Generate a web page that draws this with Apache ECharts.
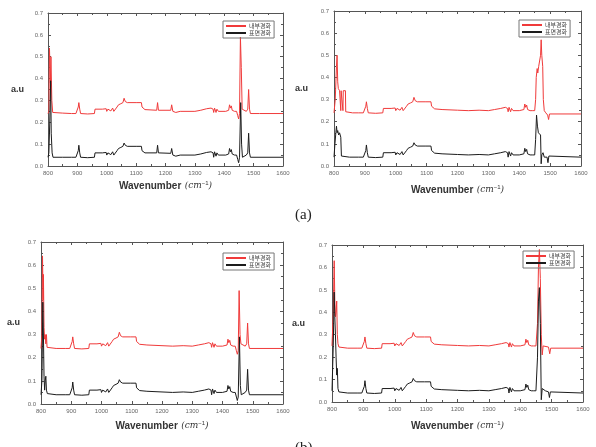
<!DOCTYPE html>
<html>
<head>
<meta charset="utf-8">
<script src="https://cdn.jsdelivr.net/npm/echarts@6/dist/echarts.min.js"></script>
<style>
html, body { margin: 0; padding: 0; background: #fff; }
#chart { width: 596px; height: 447px; }
</style>
</head>
<body>
<div id="chart"></div>
<script>
// legend names (internal / surface hardening)
const seriesNames = ['내부경화', '표면경화'];
const panelLabels = ['(a)', '(b)'];

// [wavenumber, a.u]
const tlRedHead = [[800,0.24],[803,0.25],[805,0.54],[808,0.38],[810,0.50],[813,0.30],[816,0.245],[850,0.242]];
const tlBlackHead = [[800,0.04],[803,0.06],[806,0.2],[809,0.39],[811,0.15],[814,0.06],[817,0.04],[850,0.04]];
const tlMidRed = [[880,0.24],[895,0.24],[900,0.245],[903,0.27],[905,0.29],[908,0.26],[911,0.24],[935,0.238],[958,0.24],[960,0.26],[985,0.26],[998,0.262],[1000,0.25],[1004,0.26],[1010,0.26],[1014,0.252],[1020,0.265],[1024,0.25],[1028,0.255],[1035,0.27],[1040,0.28],[1048,0.285],[1055,0.29],[1059,0.31],[1063,0.295],[1070,0.29],[1100,0.29],[1118,0.29],[1120,0.27],[1126,0.265],[1130,0.258],[1170,0.255],[1173,0.29],[1176,0.255],[1218,0.255],[1221,0.28],[1225,0.25],[1235,0.245],[1250,0.25],[1300,0.25],[1320,0.255],[1340,0.262],[1355,0.265],[1362,0.26],[1364,0.245],[1367,0.265],[1372,0.245],[1375,0.26],[1380,0.25],[1405,0.25],[1415,0.255],[1418,0.28],[1421,0.265],[1424,0.275],[1427,0.255],[1435,0.25],[1442,0.25]];
const tlMidBlack = [[880,0.04],[895,0.04],[900,0.045],[903,0.07],[905,0.095],[908,0.06],[911,0.04],[935,0.038],[958,0.04],[960,0.06],[985,0.06],[998,0.062],[1000,0.05],[1004,0.06],[1010,0.06],[1014,0.052],[1020,0.065],[1024,0.05],[1028,0.055],[1035,0.07],[1040,0.08],[1048,0.085],[1055,0.09],[1059,0.105],[1063,0.095],[1070,0.09],[1100,0.09],[1118,0.09],[1120,0.07],[1126,0.065],[1130,0.06],[1170,0.06],[1173,0.095],[1176,0.06],[1218,0.058],[1221,0.08],[1225,0.05],[1235,0.045],[1250,0.05],[1300,0.05],[1320,0.055],[1340,0.062],[1355,0.065],[1362,0.06],[1364,0.04],[1367,0.065],[1372,0.045],[1375,0.06],[1380,0.05],[1405,0.05],[1415,0.055],[1418,0.08],[1421,0.065],[1424,0.075],[1427,0.055],[1435,0.05],[1442,0.05]];
const tlRedTail = [[1446,0.23],[1449,0.215],[1452,0.24],[1455,0.59],[1458,0.45],[1461,0.26],[1465,0.255],[1475,0.25],[1480,0.26],[1483,0.35],[1486,0.26],[1489,0.24],[1520,0.24],[1600,0.24]];
const tlBlackTail = [[1446,0.03],[1449,0.015],[1452,0.04],[1456,0.29],[1459,0.1],[1462,0.04],[1466,0.045],[1475,0.05],[1480,0.06],[1483,0.15],[1486,0.06],[1489,0.04],[1600,0.04]];

// middle part shared by the other three panels
const midRed = [[880,0.24],[895,0.24],[900,0.245],[903,0.27],[905,0.29],[908,0.26],[911,0.24],[935,0.238],[958,0.24],[960,0.26],[985,0.26],[998,0.262],[1000,0.25],[1004,0.26],[1010,0.26],[1014,0.252],[1020,0.265],[1024,0.25],[1028,0.255],[1035,0.27],[1040,0.28],[1048,0.285],[1055,0.29],[1059,0.31],[1063,0.295],[1070,0.29],[1095,0.29],[1114,0.29],[1116,0.27],[1122,0.265],[1126,0.258],[1150,0.255],[1200,0.252],[1235,0.25],[1270,0.252],[1300,0.25],[1320,0.255],[1340,0.26],[1355,0.265],[1362,0.26],[1364,0.245],[1367,0.265],[1372,0.245],[1375,0.26],[1380,0.25],[1400,0.25],[1415,0.255],[1418,0.28],[1421,0.265],[1424,0.275],[1427,0.255],[1435,0.25],[1442,0.25]];
const midBlack = [[880,0.04],[895,0.04],[900,0.045],[903,0.07],[905,0.095],[908,0.06],[911,0.04],[935,0.038],[958,0.04],[960,0.06],[985,0.06],[998,0.062],[1000,0.05],[1004,0.06],[1010,0.06],[1014,0.052],[1020,0.065],[1024,0.05],[1028,0.055],[1035,0.07],[1040,0.08],[1048,0.085],[1055,0.09],[1059,0.105],[1063,0.095],[1070,0.09],[1095,0.09],[1114,0.09],[1116,0.07],[1122,0.065],[1126,0.058],[1150,0.055],[1200,0.052],[1235,0.05],[1270,0.052],[1300,0.05],[1320,0.055],[1340,0.06],[1355,0.065],[1362,0.06],[1364,0.04],[1367,0.065],[1372,0.045],[1375,0.06],[1380,0.05],[1400,0.05],[1415,0.055],[1418,0.08],[1421,0.065],[1424,0.075],[1427,0.055],[1435,0.05],[1442,0.05]];

const trRedHead = [[800,0.24],[804,0.30],[808,0.45],[810,0.50],[812,0.38],[814,0.35],[818,0.34],[821,0.34],[822,0.25],[823,0.34],[828,0.34],[829,0.25],[830,0.34],[837,0.34],[838,0.245],[860,0.24]];
const trBlackHead = [[800,0.04],[803,0.10],[806,0.15],[808,0.18],[810,0.15],[812,0.16],[815,0.14],[818,0.15],[820,0.14],[822,0.13],[824,0.045],[850,0.04]];
const trRedTail = [[1450,0.25],[1453,0.30],[1455,0.40],[1458,0.44],[1460,0.42],[1463,0.45],[1466,0.45],[1469,0.50],[1471,0.57],[1473,0.50],[1476,0.45],[1478,0.30],[1481,0.25],[1486,0.24],[1492,0.23],[1495,0.21],[1498,0.235],[1600,0.235]];
const trBlackTail = [[1450,0.05],[1453,0.12],[1456,0.23],[1459,0.18],[1462,0.15],[1466,0.15],[1469,0.14],[1471,0.01],[1473,0.05],[1477,0.06],[1481,0.04],[1490,0.04],[1493,0.015],[1496,0.045],[1500,0.04],[1600,0.04]];

const blRedHead = [[800,0.24],[803,0.30],[805,0.64],[807,0.45],[808,0.56],[810,0.33],[812,0.28],[814,0.30],[816,0.26],[818,0.30],[820,0.245],[850,0.24]];
const blBlackHead = [[800,0.04],[803,0.10],[806,0.44],[808,0.30],[810,0.12],[812,0.06],[814,0.10],[816,0.12],[818,0.06],[821,0.045],[850,0.04]];
const blRedTail = [[1446,0.23],[1449,0.215],[1452,0.23],[1455,0.49],[1458,0.30],[1461,0.26],[1466,0.255],[1475,0.25],[1480,0.26],[1483,0.35],[1486,0.26],[1489,0.24],[1600,0.24]];
const blBlackTail = [[1446,0.03],[1449,0.015],[1452,0.03],[1456,0.29],[1459,0.08],[1462,0.04],[1466,0.045],[1475,0.05],[1480,0.06],[1483,0.15],[1486,0.06],[1489,0.04],[1600,0.04]];

const brRedHead = [[800,0.25],[804,0.40],[807,0.63],[809,0.45],[811,0.38],[813,0.40],[815,0.45],[817,0.30],[819,0.26],[822,0.245],[850,0.24]];
const brBlackHead = [[800,0.05],[804,0.25],[807,0.49],[809,0.38],[811,0.30],[813,0.20],[815,0.12],[817,0.15],[819,0.06],[822,0.045],[850,0.04]];
const brRedTail = [[1450,0.25],[1455,0.35],[1458,0.60],[1461,0.68],[1464,0.55],[1467,0.30],[1470,0.21],[1473,0.25],[1478,0.245],[1490,0.245],[1494,0.215],[1497,0.24],[1600,0.24]];
const brBlackTail = [[1450,0.05],[1455,0.2],[1458,0.45],[1461,0.51],[1464,0.35],[1467,0.01],[1470,0.06],[1474,0.055],[1480,0.05],[1490,0.045],[1493,0.02],[1496,0.045],[1500,0.04],[1600,0.04]];

const panels = [
    {grid: {left: 48, right: 313, top: 13, bottom: 281}, legend: {left: 223, top: 21}, yGap: 24, xGap: 14,
        red: tlRedHead.concat(tlMidRed, tlRedTail), black: tlBlackHead.concat(tlMidBlack, tlBlackTail)},
    {grid: {left: 334, right: 15, top: 11, bottom: 281}, legend: {left: 519, top: 20}, yGap: 26, xGap: 18,
        red: trRedHead.concat(midRed, trRedTail), black: trBlackHead.concat(midBlack, trBlackTail)},
    {grid: {left: 41, right: 313, top: 242, bottom: 43}, legend: {left: 223, top: 253}, yGap: 21, xGap: 16,
        red: blRedHead.concat(midRed, blRedTail), black: blBlackHead.concat(midBlack, blBlackTail)},
    {grid: {left: 332, right: 13, top: 245, bottom: 45}, legend: {left: 523, top: 251}, yGap: 27, xGap: 18,
        red: brRedHead.concat(midRed, brRedTail), black: brBlackHead.concat(midBlack, brBlackTail)}
];

const RED = '#f03a3a', BLACK = '#1c1c1c', AXIS = '#555';
const tickStyle = {show: true, inside: true, length: 3, lineStyle: {color: AXIS}};
const minorStyle = {show: true, splitNumber: 2, length: 2, lineStyle: {color: AXIS}};

let grid = [], xAxis = [], yAxis = [], series = [], legend = [];
panels.forEach((p, i) => {
    grid.push(Object.assign({containLabel: false}, p.grid));
    let xBase = {type: 'value', gridIndex: i, min: 800, max: 1600, interval: 100,
        axisLine: {onZero: false, lineStyle: {color: AXIS}}, axisTick: tickStyle, minorTick: minorStyle, splitLine: {show: false}};
    let yBase = {type: 'value', gridIndex: i, min: 0, max: 0.7, interval: 0.1,
        axisLine: {onZero: false, lineStyle: {color: AXIS}}, axisTick: tickStyle, minorTick: minorStyle, splitLine: {show: false}};
    xAxis.push(Object.assign({}, xBase, {position: 'bottom',
        axisLabel: {fontSize: 6, color: '#666', margin: 4, formatter: (v) => String(v)},
        name: '{b|Wavenumber} {i|(cm}{s|−1}{i|)}', nameLocation: 'middle', nameGap: p.xGap,
        nameTextStyle: {rich: {
            b: {fontSize: 10, fontWeight: 'bold', color: '#333', fontFamily: 'Liberation Sans'},
            i: {fontSize: 9, fontStyle: 'italic', color: '#333', fontFamily: 'DejaVu Serif'},
            s: {fontSize: 6, color: '#333', verticalAlign: 'top', padding: [0, 0, 6, 0]}
        }}}));
    xAxis.push(Object.assign({}, xBase, {position: 'top', axisLabel: {show: false}}));
    yAxis.push(Object.assign({}, yBase, {position: 'left',
        axisLabel: {fontSize: 6, color: '#666', margin: 5, formatter: (v) => v.toFixed(1)},
        name: 'a.u', nameLocation: 'middle', nameRotate: 0, nameGap: p.yGap,
        nameTextStyle: {fontSize: 9, fontWeight: 'bold', color: '#333', fontFamily: 'Liberation Sans'}}));
    yAxis.push(Object.assign({}, yBase, {position: 'right', axisLabel: {show: false}}));
    series.push({name: seriesNames[0], type: 'line', xAxisIndex: 2 * i, yAxisIndex: 2 * i, data: p.red,
        showSymbol: false, lineStyle: {width: 1, color: RED}, itemStyle: {color: RED}});
    series.push({name: seriesNames[1], type: 'line', xAxisIndex: 2 * i, yAxisIndex: 2 * i, data: p.black,
        showSymbol: false, lineStyle: {width: 1, color: BLACK}, itemStyle: {color: BLACK}});
    legend.push({left: p.legend.left, top: p.legend.top, orient: 'vertical', data: seriesNames,
        icon: 'rect', itemWidth: 20, itemHeight: 2, itemGap: 1, padding: [2, 3],
        borderColor: '#777', borderWidth: 1,
        textStyle: {fontSize: 6, color: '#444', fontFamily: 'Noto Sans CJK KR', padding: [0, 0, 0, -2]}});
});

let myChart = echarts.init(document.getElementById('chart'), null, {renderer: 'canvas'});
myChart.setOption({
    animation: false,
    backgroundColor: '#fff',
    title: [
        {text: panelLabels[0], left: 290, top: 203, textStyle: {fontSize: 15, fontWeight: 'normal', color: '#222', fontFamily: 'Liberation Serif'}},
        {text: panelLabels[1], left: 290, top: 436, textStyle: {fontSize: 15, fontWeight: 'normal', color: '#222', fontFamily: 'Liberation Serif'}}
    ],
    grid: grid,
    xAxis: xAxis,
    yAxis: yAxis,
    legend: legend,
    series: series
});
</script>
</body>
</html>
